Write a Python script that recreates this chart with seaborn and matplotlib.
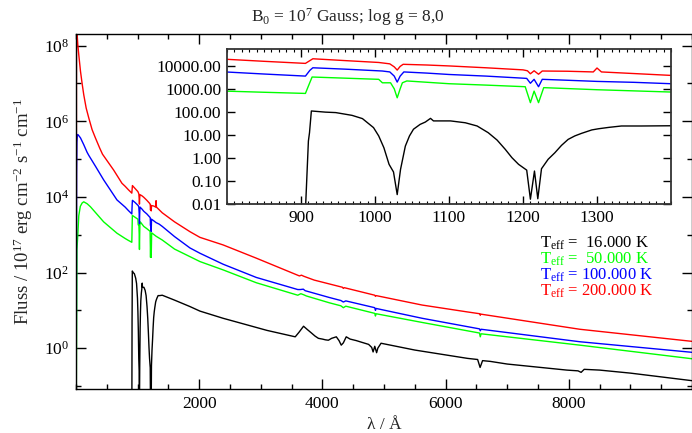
import numpy as np
import pandas as pd
import matplotlib
matplotlib.use("Agg")
import matplotlib.pyplot as plt
import seaborn as sns
from matplotlib.ticker import (FixedLocator, MultipleLocator, NullLocator, NullFormatter,
                               FuncFormatter, LogFormatterSciNotation)

# Model spectra: wavelength in Angstrom, log10 of flux (10^-17 erg cm^-2 s^-1 cm^-1)
lam_200k = [3, 8, 19, 29, 45, 73, 100, 126, 165, 207, 261, 315, 385, 430, 611, 746, 798,
            850, 906, 912, 916, 960, 1005, 1020, 1026, 1030, 1034, 1038, 1070, 1100, 1150,
            1200, 1206, 1210, 1215, 1221, 1226, 1260, 1295, 1300, 1306, 1350, 1400, 1600,
            1850, 2012, 2388, 2927, 3627, 3660, 3700, 3867, 4326, 4340, 4354, 4850, 4861,
            4872, 5619, 6346, 6555, 6563, 6571, 8177, 10000]
logf_200k = [-2.0, 8.6, 8.29, 8.03, 7.76, 7.32, 6.99, 6.70, 6.35, 6.09, 5.78, 5.56, 5.29,
             5.13, 4.71, 4.36, 4.28, 4.19, 4.10, 4.22, 4.30, 4.22, 4.14, 4.08, 3.95, 3.81,
             3.97, 4.06, 4.03, 3.99, 3.91, 3.82, 3.78, 3.65, 3.78, 3.63, 3.77, 3.76, 3.73,
             3.90, 3.73, 3.66, 3.58, 3.34, 3.08, 2.93, 2.73, 2.38, 1.91, 1.93, 1.90, 1.80,
             1.61, 1.58, 1.60, 1.40, 1.37, 1.39, 1.14, 0.96, 0.91, 0.87, 0.90, 0.50, 0.18]

lam_100k = [3, 10, 15, 22, 29, 50, 73, 126, 180, 207, 320, 449, 665, 798, 850, 906, 912,
            916, 960, 1010, 1020, 1026, 1030, 1034, 1039, 1070, 1100, 1150, 1200, 1205,
            1210, 1215, 1221, 1226, 1260, 1300, 1350, 1400, 1600, 1850, 2012, 2388, 2927,
            3600, 3640, 3690, 3720, 4112, 4300, 4340, 4380, 4850, 4861, 4872, 5619, 6550,
            6563, 6576, 8177, 10000]
logf_100k = [-2.0, 4.6, 5.45, 5.64, 5.65, 5.61, 5.56, 5.38, 5.18, 5.10, 4.80, 4.45, 3.92,
             3.73, 3.64, 3.55, 3.80, 3.91, 3.85, 3.77, 3.73, 3.55, 3.29, 3.55, 3.73, 3.68,
             3.62, 3.55, 3.46, 3.45, 3.24, 3.41, 3.09, 3.41, 3.37, 3.32, 3.28, 3.22, 2.95,
             2.65, 2.51, 2.22, 1.87, 1.55, 1.55, 1.56, 1.52, 1.34, 1.26, 1.22, 1.25, 1.07,
             1.00, 1.05, 0.79, 0.51, 0.46, 0.50, 0.17, -0.11]

lam_50k = [3, 15, 29, 45, 70, 100, 126, 180, 234, 449, 665, 798, 850, 906, 910, 915, 960,
           1005, 1010, 1021, 1026, 1030, 1034, 1037, 1043, 1100, 1150, 1203, 1210, 1215,
           1221, 1228, 1300, 1400, 1600, 2012, 2388, 2927, 3600, 3650, 3700, 3740, 4112,
           4300, 4340, 4380, 4850, 4861, 4872, 5619, 6550, 6563, 6576, 8177, 10000]
logf_50k = [-2.0, 2.6, 2.99, 3.50, 3.75, 3.84, 3.87, 3.82, 3.74, 3.34, 3.04, 2.90, 2.85,
            2.80, 3.12, 3.51, 3.46, 3.41, 3.26, 3.26, 3.00, 2.61, 3.00, 3.26, 3.34, 3.22,
            3.16, 3.09, 2.40, 2.90, 2.40, 3.05, 2.96, 2.86, 2.62, 2.29, 2.07, 1.73, 1.40,
            1.44, 1.41, 1.38, 1.20, 1.12, 1.07, 1.11, 0.92, 0.85, 0.91, 0.68, 0.40, 0.30,
            0.38, 0.08, -0.28]

lam_16k = [905, 910, 911.5, 914, 933, 947, 969, 983, 998, 1005, 1012, 1019, 1025, 1030,
           1034.5, 1041, 1046.6, 1052, 1061, 1068, 1075, 1079, 1102, 1122, 1138, 1153,
           1165, 1176, 1185, 1194, 1205, 1210, 1215.5, 1220, 1225, 1234, 1243, 1252, 1261,
           1270, 1279, 1293, 1302, 1316, 1333, 1360, 1400, 1600, 1850, 2012, 2388, 2700,
           3100, 3559, 3620, 3694, 3750, 3823, 3880, 3935, 4000, 4050, 4097, 4150, 4226,
           4270, 4306, 4340, 4387, 4450, 4550, 4629, 4750, 4800, 4823, 4850, 4880, 4900,
           4952, 5500, 6355, 6520, 6560, 6600, 6726, 7000, 7968, 8150, 8200, 8250, 8500,
           9000, 10000]
logf_16k = [-3.0, 0.74, 1.10, 2.04, 1.99, 1.97, 1.85, 1.71, 1.32, 0.96, 0.45, -0.27, -0.60,
            -1.58, -0.49, 0.52, 0.96, 1.25, 1.46, 1.56, 1.72, 1.61, 1.61, 1.53, 1.39, 1.10,
            0.78, 0.38, 0.02, -0.27, -0.52, -1.78, -0.56, -1.76, -0.46, -0.05, 0.23, 0.55,
            0.81, 0.96, 1.07, 1.22, 1.27, 1.33, 1.39, 1.39, 1.40, 1.27, 1.10, 0.98, 0.79,
            0.65, 0.47, 0.30, 0.42, 0.58, 0.50, 0.40, 0.32, 0.26, 0.24, 0.22, 0.21, 0.26,
            0.30, 0.20, 0.08, 0.14, 0.30, 0.24, 0.20, 0.16, 0.10, 0.02, -0.10, 0.05, -0.12,
            0.00, 0.13, -0.05, -0.27, -0.30, -0.51, -0.33, -0.35, -0.42, -0.58, -0.60,
            -0.64, -0.56, -0.58, -0.66, -0.86]

teff_labels = [r"T$_{\mathrm{eff}}$ =  16.000 K", r"T$_{\mathrm{eff}}$ =  50.000 K",
               r"T$_{\mathrm{eff}}$ = 100.000 K", r"T$_{\mathrm{eff}}$ = 200.000 K"]
colors = ["#000000", "#00ff00", "#0000ff", "#ff0000"]

main_xticks = [2000, 4000, 6000, 8000]
main_yticks = [1e0, 1e2, 1e4, 1e6, 1e8]
main_yminor = [1e-1, 1e1, 1e3, 1e5, 1e7]
inset_xticks = [900, 1000, 1100, 1200, 1300]
inset_yticks = [1e-2, 1e-1, 1e0, 1e1, 1e2, 1e3, 1e4]

sns.set_style("ticks")
plt.rcParams["font.family"] = ["Liberation Serif", "DejaVu Serif"]
plt.rcParams["mathtext.fontset"] = "custom"
plt.rcParams["mathtext.rm"] = "Liberation Serif"
plt.rcParams["mathtext.it"] = "Liberation Serif:italic"
plt.rcParams["mathtext.bf"] = "Liberation Serif:bold"
plt.rcParams["axes.linewidth"] = 1.0

W, H = 692, 433
fig = plt.figure(figsize=(W / 100, H / 100), dpi=100)

series = [(lam_16k, logf_16k), (lam_50k, logf_50k), (lam_100k, logf_100k), (lam_200k, logf_200k)]
frames = [pd.DataFrame({"lam": lam, "flux": 10.0 ** np.asarray(lf)}) for lam, lf in series]


def draw(ax):
    ax.set_yscale("log")
    for df, col in zip(frames, colors):
        sns.lineplot(data=df, x="lam", y="flux", ax=ax, color=col, lw=1.0,
                     sort=False, estimator=None, legend=False)
    ax.set_xlabel("")
    ax.set_ylabel("")


# main panel
ax = fig.add_axes([76 / W, 1 - 389 / H, 1 - 76 / W, (389 - 34.3) / H])
draw(ax)
ax.set_xlim(0, 10000)
ax.set_ylim(10 ** -1.08, 10 ** 8.30)
ax.xaxis.set_major_locator(FixedLocator(main_xticks))
ax.xaxis.set_minor_locator(MultipleLocator(500))
ax.yaxis.set_major_locator(FixedLocator(main_yticks))
ax.yaxis.set_minor_locator(FixedLocator(main_yminor))
ax.yaxis.set_major_formatter(LogFormatterSciNotation())
ax.yaxis.set_minor_formatter(NullFormatter())
ax.tick_params(which="both", direction="in", top=True, right=True, colors="black")
ax.tick_params(which="major", length=7, width=1.0, labelsize=12.5, pad=5)
ax.tick_params(which="minor", length=3.5, width=1.0)
for s in ax.spines.values():
    s.set_color("black")

# inset
axi = fig.add_axes([227 / W, 1 - 204.3 / H, (671 - 227) / W, (204.3 - 49.3) / H])
draw(axi)
axi.set_xlim(800, 1400)
axi.set_ylim(1e-2, 10 ** 4.71)
axi.xaxis.set_major_locator(FixedLocator(inset_xticks))
axi.xaxis.set_minor_locator(MultipleLocator(10))
axi.yaxis.set_major_locator(FixedLocator(inset_yticks))
axi.yaxis.set_minor_locator(NullLocator())
axi.yaxis.set_major_formatter(FuncFormatter(lambda v, p: f"{v:.2f}"))
axi.tick_params(which="both", direction="in", top=True, right=True, colors="black")
axi.tick_params(which="major", length=5.5, width=1.0, labelsize=12.5, pad=4)
axi.tick_params(which="minor", length=2.5, width=0.8)
for s in axi.spines.values():
    s.set_color("#333333")
    s.set_linewidth(1.3)

# temperature key
key_base = [248, 264, 280, 296]
for txt, col, yb in zip(teff_labels, colors, key_base):
    fig.text(540 / W, 1 - yb / H, txt, color=col, fontsize=12, ha="left", va="baseline")

fig.text(348 / W, 1 - 17 / H, r"B$_0$ = 10$^7$ Gauss; log g = 8,0",
         ha="center", va="center", fontsize=12.5)
fig.text(23 / W, 1 - 212 / H,
         r"Fluss / 10$^{17}$ erg cm$^{-2}$ s$^{-1}$ cm$^{-1}$",
         rotation=90, ha="center", va="center", fontsize=13.5)
fig.text(384 / W, 1 - 425 / H, "λ / Å", ha="center", va="center", fontsize=12.5)

fig.savefig("out.png", dpi=100)
